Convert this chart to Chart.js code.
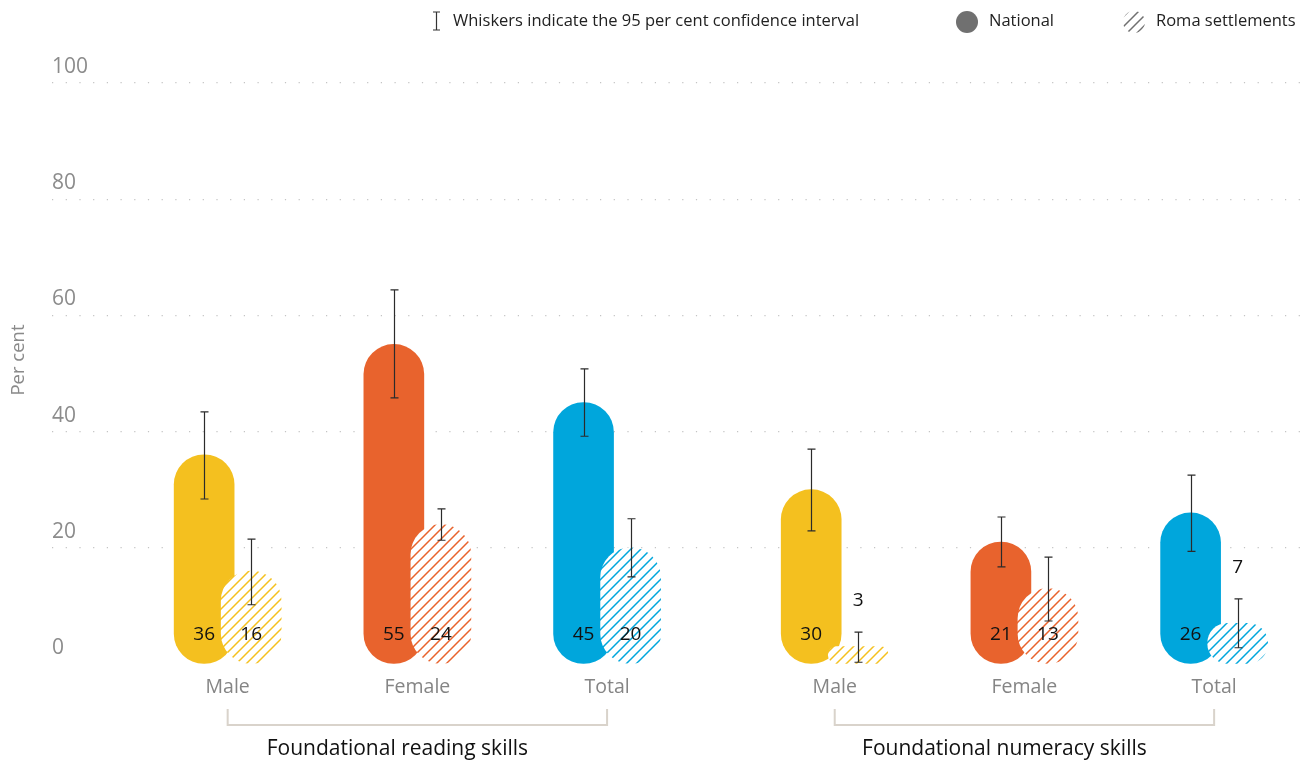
<!DOCTYPE html>
<html>
<head>
<meta charset="utf-8">
<script src="https://cdn.jsdelivr.net/npm/chart.js@4/dist/chart.umd.min.js"></script>
<style>
  body { margin: 0; background: #fff; }
  canvas { display: block; }
</style>
</head>
<body>
<canvas id="skillsChart" width="1315" height="762"></canvas>
<script>
// data
const categories = ['Male', 'Female', 'Total', 'Male', 'Female', 'Total'];
const positions = [0, 1, 2, 3.2, 4.2, 5.2];
const groups = ['Foundational reading skills', 'Foundational numeracy skills'];
const groupMembers = [[0, 2], [3, 5]];
const national = [36, 55, 45, 30, 21, 26];
const roma = [16, 24, 20, 3, 13, 7];
const nationalLow = [28.4, 45.8, 39.2, 22.9, 16.7, 19.4];
const nationalHigh = [43.4, 64.4, 50.8, 37.0, 25.3, 32.5];
const romaLow = [10.2, 21.3, 15.0, 0.3, 7.4, 2.8];
const romaHigh = [21.5, 26.7, 25.0, 5.5, 18.4, 11.2];
const yTicks = [0, 20, 40, 60, 80, 100];

const YELLOW = '#F4C01F';
const ORANGE = '#E8632D';
const BLUE = '#00A6DC';
const colors = [YELLOW, ORANGE, BLUE, YELLOW, ORANGE, BLUE];
const FONT = "'Open Sans', 'Noto Sans', sans-serif";
const OFF = 0.124;

function hatch(color) {
    const c = document.createElement('canvas');
    c.width = c.height = 10;
    const g = c.getContext('2d');
    g.fillStyle = '#fff';
    g.fillRect(0, 0, 10, 10);
    g.strokeStyle = color;
    g.lineWidth = 1.5;
    g.beginPath();
    g.moveTo(-1, 11); g.lineTo(11, -1);
    g.moveTo(-1, 1); g.lineTo(1, -1);
    g.moveTo(9, 11); g.lineTo(11, 9);
    g.stroke();
    return g.createPattern(c, 'repeat');
}

const ctx = document.getElementById('skillsChart').getContext('2d');

const extras = {
    id: 'extras',
    afterDatasetsDraw(chart) {
        const c = chart.ctx;
        const y = chart.scales.y;
        const zero = y.getPixelForValue(0);
        const sets = [
            { meta: chart.getDatasetMeta(1), vals: national, lo: nationalLow, hi: nationalHigh },
            { meta: chart.getDatasetMeta(0), vals: roma, lo: romaLow, hi: romaHigh }
        ];
        c.save();
        // whiskers
        c.strokeStyle = '#2b2b2b';
        c.lineWidth = 1.2;
        sets.forEach(s => {
            s.meta.data.forEach((bar, i) => {
                const x = Math.round(bar.x) + 0.5;
                const y1 = y.getPixelForValue(s.lo[i]);
                const y2 = y.getPixelForValue(s.hi[i]);
                c.beginPath();
                c.moveTo(x, y1); c.lineTo(x, y2);
                c.moveTo(x - 4, y1); c.lineTo(x + 4, y1);
                c.moveTo(x - 4, y2); c.lineTo(x + 4, y2);
                c.stroke();
            });
        });
        // value labels
        c.fillStyle = '#111';
        c.font = '19px ' + FONT;
        c.textAlign = 'center';
        c.textBaseline = 'middle';
        sets.forEach(s => {
            s.meta.data.forEach((bar, i) => {
                let ly = zero - 29;
                if (s.vals[i] < 10) ly = y.getPixelForValue(s.hi[i]) - 31;
                c.fillText(String(s.vals[i]), bar.x, ly);
            });
        });
        c.restore();
    },
    afterDraw(chart) {
        const c = chart.ctx;
        const x = chart.scales.x;
        c.save();
        // group brackets and labels
        c.strokeStyle = '#d9d3cb';
        c.lineWidth = 2;
        groupMembers.forEach((m, gi) => {
            const x1 = x.getPixelForValue(positions[m[0]]);
            const x2 = x.getPixelForValue(positions[m[1]]);
            c.beginPath();
            c.moveTo(x1, 709); c.lineTo(x1, 725); c.lineTo(x2, 725); c.lineTo(x2, 709);
            c.stroke();
            c.fillStyle = '#111';
            c.font = '21px ' + FONT;
            c.textAlign = 'center';
            c.textBaseline = 'middle';
            c.fillText(groups[gi], (x1 + x2) / 2 - 20, 749);
        });
        // y title
        c.save();
        c.translate(19, 360);
        c.rotate(-Math.PI / 2);
        c.fillStyle = '#8a8a8a';
        c.font = '18.5px ' + FONT;
        c.textAlign = 'center';
        c.textBaseline = 'middle';
        c.fillText('Per cent', 0, 0);
        c.restore();
        // legend
        c.strokeStyle = '#333';
        c.lineWidth = 1.2;
        c.beginPath();
        c.moveTo(436.5, 12); c.lineTo(436.5, 30);
        c.moveTo(433, 12); c.lineTo(440, 12);
        c.moveTo(433, 30); c.lineTo(440, 30);
        c.stroke();
        c.fillStyle = '#222';
        c.font = '16.5px ' + FONT;
        c.textAlign = 'left';
        c.textBaseline = 'middle';
        c.fillText('Whiskers indicate the 95 per cent confidence interval', 453, 21);
        c.fillText('National', 989, 21);
        c.fillText('Roma settlements', 1156, 21);
        c.fillStyle = '#707070';
        c.beginPath(); c.arc(967, 22, 11, 0, Math.PI * 2); c.fill();
        c.fillStyle = hatch('#707070');
        c.beginPath(); c.arc(1134, 22, 11, 0, Math.PI * 2); c.fill();
        c.restore();
    }
};

const skillsChart = new Chart(ctx, {
    type: 'bar',
    data: {
        datasets: [{
            label: 'Roma settlements',
            data: positions.map((p, i) => ({ x: p + OFF, y: roma[i] })),
            backgroundColor: colors.map(col => hatch(col)),
            order: 0
        }, {
            label: 'National',
            data: positions.map((p, i) => ({ x: p - OFF, y: national[i] })),
            backgroundColor: colors,
            order: 1
        }]
    },
    options: {
        responsive: false,
        animation: false,
        layout: { padding: { top: 83, right: 10, left: 0, bottom: 0 } },
        datasets: {
            bar: {
                grouped: false,
                barThickness: 60,
                borderRadius: 30,
                borderSkipped: false
            }
        },
        plugins: {
            legend: { display: false },
            tooltip: { enabled: false }
        },
        scales: {
            x: {
                type: 'linear',
                offset: false,
                min: -0.926,
                max: 5.679,
                afterBuildTicks: axis => { axis.ticks = positions.map(v => ({ value: v })); },
                afterFit: axis => { axis.height = 98; },
                grid: { display: false, drawTicks: false },
                border: { display: false },
                ticks: {
                    autoSkip: false,
                    maxRotation: 0,
                    padding: 12,
                    color: '#858585',
                    font: { family: FONT, size: 19.5 },
                    callback: (v, i) => categories[i]
                }
            },
            y: {
                min: 0,
                max: 100,
                afterBuildTicks: axis => { axis.ticks = yTicks.map(v => ({ value: v })); },
                afterFit: axis => { axis.width = 52; },
                grid: {
                    drawTicks: false,
                    color: c => c.tick && c.tick.value === 0 ? 'rgba(0,0,0,0)' : '#c4c4c4',
                    lineWidth: 1.2
                },
                border: { display: false, dash: [1.2, 12.5] },
                ticks: {
                    mirror: true,
                    padding: 0,
                    labelOffset: -16,
                    color: '#8c8c8c',
                    font: { family: FONT, size: 21 }
                }
            }
        }
    },
    plugins: [extras]
});
</script>
</body>
</html>
